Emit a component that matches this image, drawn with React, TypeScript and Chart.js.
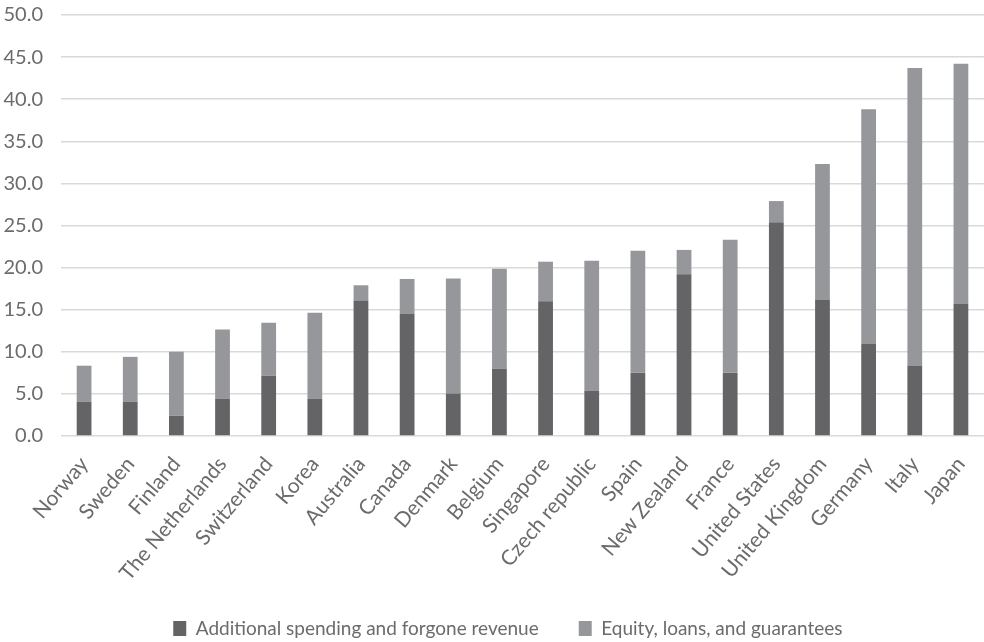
import React, { useEffect, useRef } from "react";
import { Chart, registerables } from "chart.js";

Chart.register(...registerables);

const countries = [
  "Norway", "Sweden", "Finland", "The Netherlands", "Switzerland", "Korea",
  "Australia", "Canada", "Denmark", "Belgium", "Singapore", "Czech republic",
  "Spain", "New Zealand", "France", "United States", "United Kingdom",
  "Germany", "Italy", "Japan",
];

const additionalSpending = [
  4.05, 4.05, 2.4, 4.45, 7.15, 4.45, 16.05, 14.55, 5.05, 8.0,
  16.0, 5.4, 7.5, 19.2, 7.5, 25.4, 16.2, 11.0, 8.3, 15.75,
];

const equityLoans = [
  4.3, 5.35, 7.6, 8.2, 6.3, 10.2, 1.85, 4.1, 13.65, 11.85,
  4.7, 15.4, 14.5, 2.9, 15.8, 2.5, 16.1, 27.8, 35.4, 28.45,
];

const seriesNames = ["Additional spending and forgone revenue", "Equity, loans, and guarantees"];

const FONT = "Lato, 'Noto Sans', sans-serif";
const TEXT = "#6b6b6b";

export default function App() {
  const ref = useRef<HTMLCanvasElement | null>(null);

  useEffect(() => {
    if (!ref.current) return;
    const chart = new Chart(ref.current, {
      type: "bar",
      data: {
        labels: countries,
        datasets: [
          {
            label: seriesNames[0],
            data: additionalSpending,
            backgroundColor: "#646466",
            borderWidth: 0,
            barPercentage: 0.32,
            categoryPercentage: 1,
          },
          {
            label: seriesNames[1],
            data: equityLoans,
            backgroundColor: "#96979b",
            borderWidth: 0,
            barPercentage: 0.32,
            categoryPercentage: 1,
          },
        ],
      },
      options: {
        animation: false,
        responsive: false,
        maintainAspectRatio: false,
        layout: { padding: { top: 0, left: 0, right: 0, bottom: 2 } },
        plugins: {
          tooltip: { enabled: false },
          legend: {
            position: "bottom",
            fullSize: false,
            labels: {
              color: TEXT,
              font: { family: FONT, size: 19 },
              boxWidth: 13,
              boxHeight: 15,
              padding: 6,
              generateLabels: (c: any) => {
                const items = Chart.defaults.plugins.legend.labels.generateLabels(c);
                items.forEach((it: any, i: number) => {
                  it.text = it.text + (i === 0 ? "       " : "      ");
                });
                return items;
              },
            },
          },
        },
        scales: {
          x: {
            stacked: true,
            grid: { display: false, drawTicks: false },
            border: { display: false },
            ticks: {
              color: TEXT,
              font: { family: FONT, size: 21 },
              minRotation: 50,
              maxRotation: 50,
              autoSkip: false,
              padding: 16,
            },
            afterFit: (scale: any) => {
              scale.height = 177;
              scale.paddingRight = 0;
              scale.paddingLeft = 0;
            },
          },
          y: {
            stacked: true,
            min: 0,
            max: 50,
            grid: { color: "#d9d9d9", lineWidth: 1.5, drawTicks: false },
            border: { display: false },
            ticks: {
              stepSize: 5,
              color: TEXT,
              font: { family: FONT, size: 20 },
              padding: 18,
              callback: (v: any) => Number(v).toFixed(1),
            },
            afterFit: (scale: any) => {
              scale.width = 61;
            },
          },
        },
      },
    });
    return () => chart.destroy();
  }, []);

  return (
    <div style={{ position: "fixed", left: 0, top: 0, width: 984, height: 642, overflow: "hidden", background: "#fff" }}>
      <canvas ref={ref} width={984} height={665} style={{ display: "block", marginTop: -15 }} />
    </div>
  );
}
